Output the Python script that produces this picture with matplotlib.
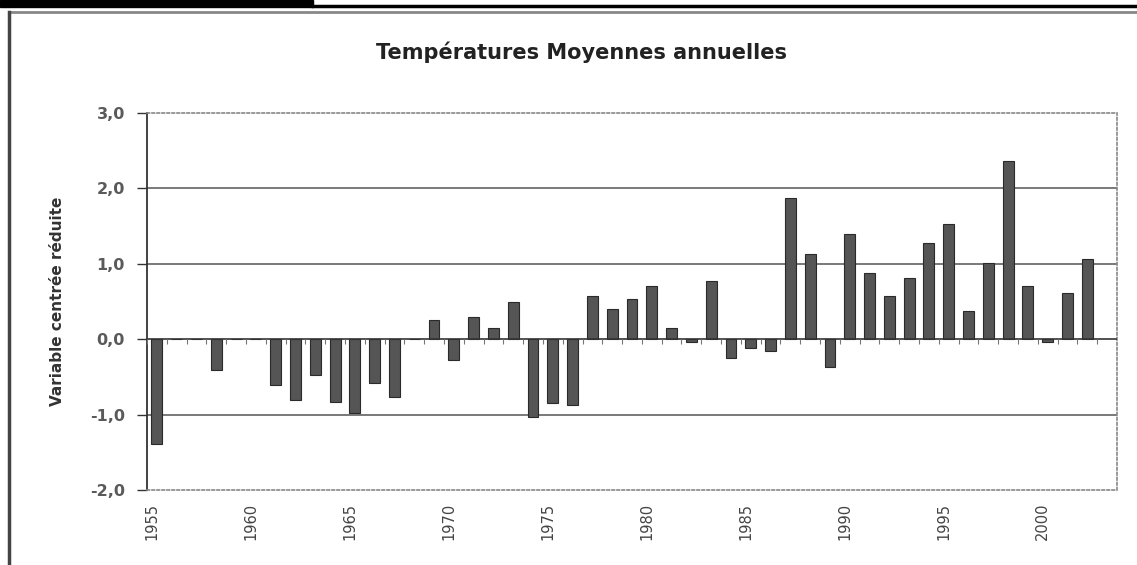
import matplotlib.pyplot as plt
import matplotlib.transforms as mtransforms
import numpy as np

plt.rcParams['font.family'] = ['DejaVu Sans']

# data (centred reduced variable, one bar per year)
years = np.arange(1955, 2004)
values = [-1.39, 0.0, 0.0, -0.41, 0.0, 0.0, -0.61, -0.81, -0.48, -0.83,
          -0.98, -0.58, -0.77, 0.0, 0.26, -0.28, 0.29, 0.15, 0.50, -1.03,
          -0.84, -0.87, 0.57, 0.40, 0.53, 0.71, 0.15, -0.04, 0.77, -0.25,
          -0.12, -0.15, 1.87, 1.13, -0.37, 1.40, 0.88, 0.57, 0.81, 1.28,
          1.53, 0.37, 1.01, 2.37, 0.71, -0.04, 0.61, 1.06, np.nan]
y_ticks = [-2.0, -1.0, 0.0, 1.0, 2.0, 3.0]
y_tick_labels = ['-2,0', '-1,0', '0,0', '1,0', '2,0', '3,0']
label_years = [1955, 1960, 1965, 1970, 1975, 1980, 1985, 1990, 1995, 2000]

title = 'Températures Moyennes annuelles'
ylabel = 'Variable centrée réduite'

fig = plt.figure(figsize=(11.37, 5.65), dpi=100)

# page decorations of the scan (black strip on top, chart frame)
fig.patches.append(plt.Rectangle((0, 0.987), 0.275, 0.013, transform=fig.transFigure,
                                 color='black', zorder=0))
fig.lines.append(plt.Line2D([0.275, 1.0], [0.989, 0.989], transform=fig.transFigure,
                            color='black', lw=2.5))
fig.lines.append(plt.Line2D([0.008, 1.0], [0.978, 0.978], transform=fig.transFigure,
                            color='#888888', lw=2))
fig.lines.append(plt.Line2D([0.008, 0.008], [0.0, 0.978], transform=fig.transFigure,
                            color='#444444', lw=2.5))

ax = fig.add_axes([0.1293, 0.1327, 0.8531, 0.6673])
x = np.arange(len(years))

ax.bar(x, values, width=0.55, color='#555555', edgecolor='#2a2a2a', linewidth=0.8,
       zorder=3)

ax.set_xlim(-0.5, len(years) - 0.5)
ax.set_ylim(-2.0, 3.0)

# horizontal gridlines
for v in [-1.0, 1.0, 2.0]:
    ax.axhline(v, color='#555555', lw=1.1, zorder=1)
ax.axhline(0, color='#333333', lw=1.2, zorder=4)
# small category tick marks hanging below the zero line
ax.vlines(np.arange(-0.5, len(years)), -0.06, 0, color='#777777', lw=0.8, zorder=4)

ax.set_yticks(y_ticks)
ax.set_yticklabels(y_tick_labels, fontsize=11.5, fontweight='bold', color='#5a5a5a')
ax.tick_params(axis='y', length=7, width=1, color='#333333', pad=9)

ax.set_xticks([list(years).index(yr) for yr in label_years])
ax.set_xticklabels([str(yr) for yr in label_years], rotation=90, fontsize=10.5,
                   color='#444444')
ax.tick_params(axis='x', length=0, pad=9)
shift = mtransforms.ScaledTranslation(-5 / 100, 0, fig.dpi_scale_trans)
for lab in ax.get_xticklabels():
    lab.set_transform(lab.get_transform() + shift)

for side in ['top', 'bottom', 'right']:
    ax.spines[side].set_linestyle((0, (1.5, 1.5)))
    ax.spines[side].set_color('#888888')
    ax.spines[side].set_linewidth(1.2)
ax.spines['left'].set_color('#333333')
ax.spines['left'].set_linewidth(1.3)

ax.set_ylabel(ylabel, fontsize=11, fontweight='bold', color='#333333', labelpad=18)
fig.text(0.511, 0.908, title, ha='center', va='center', fontsize=15,
         fontweight='bold', color='#222222')

fig.savefig('out.png', dpi=100)
